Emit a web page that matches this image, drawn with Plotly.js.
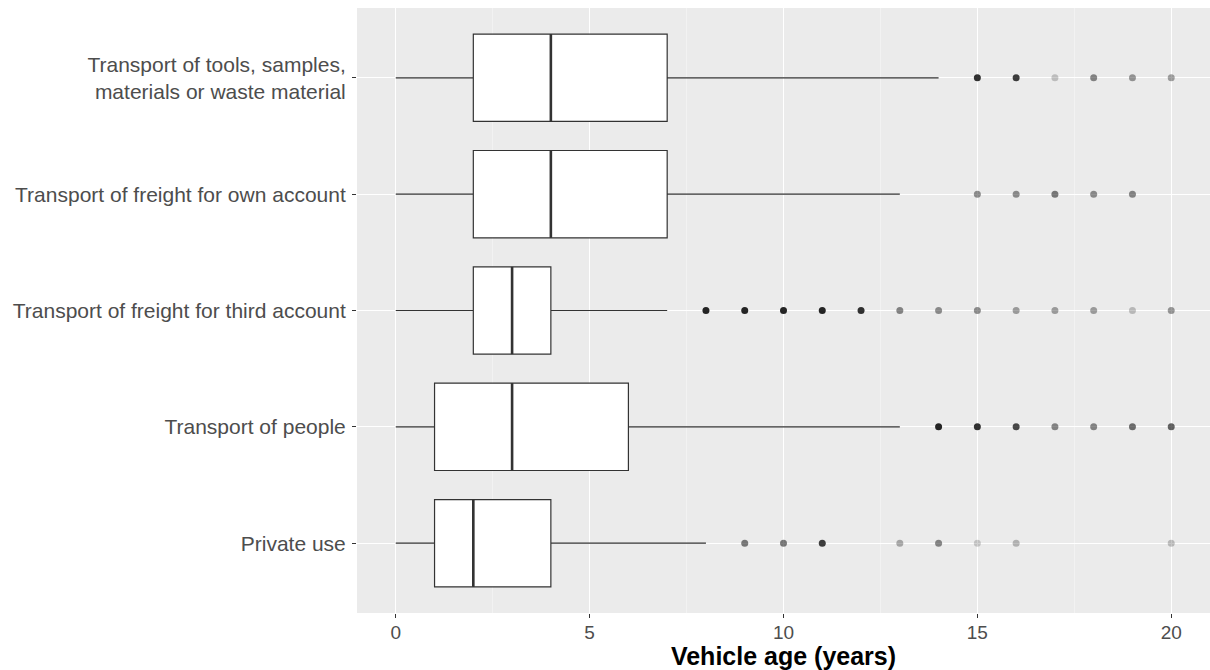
<!DOCTYPE html>
<html>
<head>
<meta charset="utf-8">
<script src="https://cdn.plot.ly/plotly-3.0.1.min.js"></script>
<style>html,body{margin:0;padding:0;background:#fff;}#chart{width:1210px;height:670px;}</style>
</head>
<body>
<div id="chart"></div>
<script>
// Categories listed from bottom to top
const categories = [
  "Private use",
  "Transport of people",
  "Transport of freight for third account",
  "Transport of freight for own account",
  "Transport of tools, samples,<br>materials or waste material"
];
const lowerWhisker = [0, 0, 0, 0, 0];
const q1Values     = [1, 1, 2, 2, 2];
const medianValues = [2, 3, 3, 4, 4];
const q3Values     = [4, 6, 4, 7, 7];
const upperWhisker = [8, 13, 7, 13, 14];

// Outliers per category (same order), with darkness (point overlap) as opacity
const outlierX = [
  [9, 10, 11, 13, 14, 15, 16, 20],
  [14, 15, 16, 17, 18, 19, 20],
  [8, 9, 10, 11, 12, 13, 14, 15, 16, 17, 18, 19, 20],
  [15, 16, 17, 18, 19],
  [15, 16, 17, 18, 19, 20]
];
const outlierAlpha = [
  [0.5, 0.5, 0.75, 0.3, 0.45, 0.18, 0.25, 0.22],
  [0.85, 0.8, 0.7, 0.45, 0.45, 0.55, 0.6],
  [0.85, 0.85, 0.85, 0.85, 0.8, 0.45, 0.42, 0.42, 0.35, 0.35, 0.35, 0.22, 0.38],
  [0.42, 0.42, 0.5, 0.42, 0.45],
  [0.8, 0.75, 0.2, 0.45, 0.38, 0.35]
];

const boxWidth = 0.75;
const traces = [{
  type: 'box',
  orientation: 'h',
  y: categories,
  q1: q1Values,
  median: medianValues,
  q3: q3Values,
  lowerfence: lowerWhisker,
  upperfence: upperWhisker,
  width: boxWidth,
  boxpoints: false,
  fillcolor: '#ffffff',
  line: {color: '#333333', width: 1.2},
  whiskerwidth: 0,
  hoverinfo: 'skip',
  showlegend: false
}];

categories.forEach((c, i) => {
  traces.push({
    type: 'scatter',
    mode: 'markers',
    x: outlierX[i],
    y: outlierX[i].map(() => c),
    marker: {color: '#000000', size: 7, opacity: outlierAlpha[i], line: {width: 0}},
    hoverinfo: 'skip',
    showlegend: false
  });
});

// Thicker median lines as in ggplot
const shapes = medianValues.map((m, i) => ({
  type: 'line', xref: 'x', yref: 'y',
  x0: m, x1: m, y0: i - boxWidth / 2, y1: i + boxWidth / 2,
  line: {color: '#333333', width: 2.6}
}));

const layout = {
  width: 1210, height: 670,
  margin: {l: 357, r: 0, t: 8, b: 57, pad: 0},
  paper_bgcolor: '#ffffff',
  plot_bgcolor: '#ebebeb',
  font: {family: 'Liberation Sans, Arial, sans-serif', color: '#4d4d4d', size: 21},
  boxgap: 0, boxgroupgap: 0,
  shapes: shapes,
  xaxis: {
    range: [-1, 21],
    tickvals: [0, 5, 10, 15, 20],
    ticktext: ['0', '5', '10', '15', '20'],
    ticks: 'outside', ticklen: 4, tickcolor: '#333333', tickwidth: 1,
    ticklabelstandoff: -2,
    showgrid: true, gridcolor: '#ffffff', gridwidth: 1.2,
    minor: {tickvals: [2.5, 7.5, 12.5, 17.5], showgrid: true, gridcolor: '#f7f7f7', gridwidth: 0.6, ticks: ''},
    zeroline: false, showline: false,
    tickfont: {size: 19, color: '#4d4d4d'},
    title: {text: '<b>Vehicle age (years)</b>', font: {size: 25, color: '#000000'}, standoff: 4}
  },
  yaxis: {
    type: 'category',
    categoryorder: 'array', categoryarray: categories,
    range: [-0.6, 4.6],
    ticks: 'outside', ticklen: 4, tickcolor: '#333333', tickwidth: 1,
    ticklabelstandoff: 2,
    showgrid: true, gridcolor: '#ffffff', gridwidth: 1.2,
    zeroline: false, showline: false,
    tickfont: {size: 21, color: '#4d4d4d'}
  }
};

Plotly.newPlot('chart', traces, layout, {staticPlot: true, displayModeBar: false});
</script>
</body>
</html>
